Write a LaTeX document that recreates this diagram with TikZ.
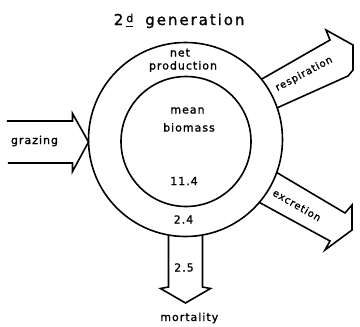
\documentclass[tikz,border=0pt]{standalone}
\usepackage{fontspec}
\setmainfont{DejaVu Sans}
\newfontfamily\lettering{DejaVu Sans}[LetterSpace=9,FakeBold=1.2]
\newfontfamily\headlettering{DejaVu Sans}[LetterSpace=13,FakeBold=1.2]
\usetikzlibrary{positioning}

\begin{document}
\begin{tikzpicture}[
    x=1pt, y=-1pt,
    line width=1.6pt, line join=miter,
    lbl/.style={inner sep=0, anchor=base, font=\lettering\fontsize{11}{12}\selectfont},
    tilted/.style={inner sep=0, font=\lettering\fontsize{10}{11}\selectfont},
    heading/.style={inner sep=0, anchor=base west, font=\headlettering\fontsize{15}{16}\selectfont},
    flow/.style={draw, line width=1.6pt, line join=miter}]
\useasboundingbox (0,0) rectangle (360,327);

\coordinate (outer) at (185.5,139.5);
\coordinate (inner) at (186,141.5);
\draw (outer) circle[radius=97];
\draw (inner) circle[radius=65];

\node[heading] (title) at (113,25) {2\kern3pt\underline{\raisebox{3pt}{\fontsize{11}{11}\selectfont d}}\kern12pt generation};

\node[lbl] (net)  at (180,56.5) {net};
\node[lbl] (prod) at (183,69.5) {production};
\node[lbl] (mean) at (187.5,113.5) {mean};
\node[lbl] (bio)  at (189,131.5) {biomass};
\node[lbl] (stock) at (184,185) {11.4};
\node[lbl] (npp)  at (183.5,223.5) {2.4};

% grazing in
\path[flow] (7,121) -- (72.5,121) -- (72.5,113.5) -- (88.5,142) -- (72.5,171.5) -- (72.5,163) -- (8,163);
\node[lbl] (graz) at (34.5,144) {grazing};

% respiration out
\path[flow] (261.5,79.2) -- (330,40) -- (326,30) -- (353,45) -- (353,70) -- (348,76) -- (277.2,107.8);
\node[tilted, rotate=28] (resp) at (304,74) {respiration};

% excretion out
\path[flow] (276.7,172.5) -- (345,213) -- (352,205) -- (352,230) -- (325,250) -- (330,241) -- (259.3,202.4);
\node[tilted, rotate=-30] (excr) at (297,205) {excretion};

% mortality out
\path[flow] (168.5,235) -- (168.5,287) -- (160.5,288.5) -- (185.5,303) -- (210.5,288.5) -- (202.5,287) -- (202.5,235);
\node[lbl] (loss) at (184,271.5) {2.5};
\node[lbl] (mort) at (189.3,321) {mortality};

\end{tikzpicture}
\end{document}
